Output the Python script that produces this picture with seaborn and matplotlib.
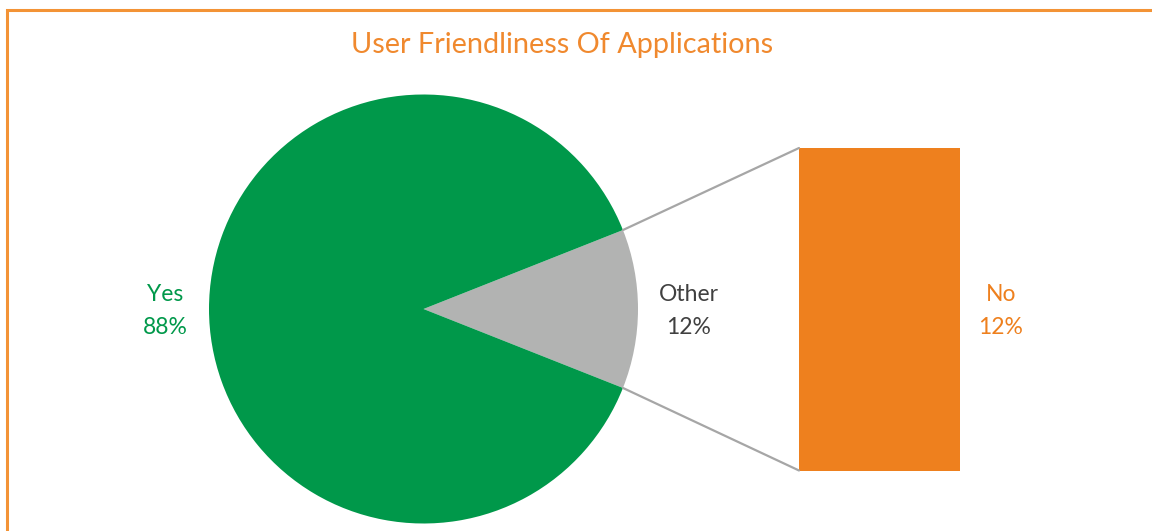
import matplotlib
matplotlib.use("Agg")
import matplotlib.pyplot as plt
import seaborn as sns
import numpy as np
from matplotlib.patches import ConnectionPatch, Rectangle

sns.set_theme(style="white")
plt.rcParams['font.family'] = ['Lato', 'DejaVu Sans']

# ---- data ----
title = "User Friendliness Of Applications"
pie_labels = ["Yes", "Other"]
pie_values = [88, 12]
bar_labels = ["No"]
bar_values = [12]

green = "#00984A"
grey = "#B2B3B2"
orange = "#EE801E"
title_color = "#F0892E"
text_grey = "#404040"

W, H = 1152, 531
fig = plt.figure(figsize=(W / 100, H / 100), dpi=100)
fig.patch.set_facecolor("white")

# border (clipped on right & bottom like the reference)
fig.add_artist(Rectangle((7 / W, -0.05), 1.2, 1 - 10 / H + 0.05, transform=fig.transFigure,
                         fill=False, edgecolor="#F39336", linewidth=2.2))

# ---- pie axes ----
R = 214.5
cx, cy = 423.5, 309
ax = fig.add_axes([(cx - R) / W, (H - cy - R) / H, 2 * R / W, 2 * R / H])
other_frac = pie_values[1] / sum(pie_values)
start = -other_frac * 360 / 2
wedges, _ = ax.pie(pie_values[::-1], colors=[grey, green], startangle=start,
                   radius=1, wedgeprops=dict(linewidth=0))
ax.set_xlim(-1, 1)
ax.set_ylim(-1, 1)
ax.axis("off")

# ---- bar axes ----
bx0, bx1, by0, by1 = 799, 960, 148, 470.5
bax = fig.add_axes([bx0 / W, (H - by1) / H, (bx1 - bx0) / W, (by1 - by0) / H])
sns.barplot(x=bar_labels, y=bar_values, color=orange, width=1.0, saturation=1,
            ax=bax, edgecolor="none")
bax.set_xlim(-0.5, 0.5)
bax.set_ylim(0, bar_values[0])
bax.axis("off")

# ---- connector lines ----
ang = np.deg2rad(other_frac * 360 / 2)
for sgn, ybar in [(1, bar_values[0]), (-1, 0)]:
    con = ConnectionPatch(xyA=(np.cos(ang), sgn * np.sin(ang)), coordsA=ax.transData,
                          xyB=(-0.5, ybar), coordsB=bax.transData,
                          color="#A6A6A6", linewidth=1.6)
    fig.add_artist(con)

# ---- labels ----
fs = 16.5
def lab(x, y, s, c):
    fig.text(x / W, 1 - y / H, s, ha="center", va="center", fontsize=fs, color=c,
             linespacing=1.65)

lab(165, 311, f"{pie_labels[0]}\n{pie_values[0]}%", green)
lab(689, 311, f"{pie_labels[1]}\n{pie_values[1]}%", text_grey)
lab(1001, 311, f"{bar_labels[0]}\n{bar_values[0]}%", orange)

fig.text(562 / W, 1 - 45 / H, title, ha="center", va="center", fontsize=20.8,
         color=title_color)

fig.savefig("out.png", dpi=100, facecolor="white")
